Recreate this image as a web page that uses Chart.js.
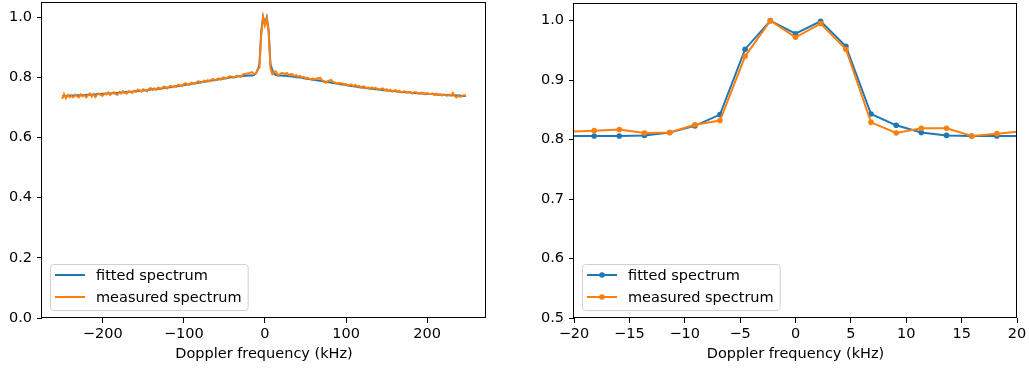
<!DOCTYPE html>
<html>
<head>
<meta charset="utf-8">
<script src="https://cdn.jsdelivr.net/npm/chart.js@4.4.1/dist/chart.umd.min.js"></script>
<style>
  html, body { margin: 0; padding: 0; background: #fff; }
  #wrap { position: relative; width: 1029px; height: 368px; }
  .panel { position: absolute; top: 0; height: 368px; }
  #left { left: 0; width: 495px; }
  #right { left: 520px; width: 509px; }
</style>
</head>
<body>
<div id="wrap">
  <div class="panel" id="left"><canvas id="fullChart"></canvas></div>
  <div class="panel" id="right"><canvas id="zoomChart"></canvas></div>
</div>
<script>
// Doppler frequency grid (kHz)
const freqs = [
  -250, -247.73, -245.45, -243.18, -240.91, -238.64, -236.36, -234.09, -231.82, -229.55, -227.27,
  -225, -222.73, -220.45, -218.18, -215.91, -213.64, -211.36, -209.09, -206.82, -204.55, -202.27,
  -200, -197.73, -195.45, -193.18, -190.91, -188.64, -186.36, -184.09, -181.82, -179.55, -177.27,
  -175, -172.73, -170.45, -168.18, -165.91, -163.64, -161.36, -159.09, -156.82, -154.55, -152.27,
  -150, -147.73, -145.45, -143.18, -140.91, -138.64, -136.36, -134.09, -131.82, -129.55, -127.27,
  -125, -122.73, -120.45, -118.18, -115.91, -113.64, -111.36, -109.09, -106.82, -104.55, -102.27,
  -100, -97.73, -95.45, -93.18, -90.91, -88.64, -86.36, -84.09, -81.82, -79.55, -77.27,
  -75, -72.73, -70.45, -68.18, -65.91, -63.64, -61.36, -59.09, -56.82, -54.55, -52.27,
  -50, -47.73, -45.45, -43.18, -40.91, -38.64, -36.36, -34.09, -31.82, -29.55, -27.27,
  -25, -22.73, -20.45, -18.18, -15.91, -13.64, -11.36, -9.09, -6.82, -4.55, -2.27,
  0, 2.27, 4.55, 6.82, 9.09, 11.36, 13.64, 15.91, 18.18, 20.45, 22.73,
  25, 27.27, 29.55, 31.82, 34.09, 36.36, 38.64, 40.91, 43.18, 45.45, 47.73,
  50, 52.27, 54.55, 56.82, 59.09, 61.36, 63.64, 65.91, 68.18, 70.45, 72.73,
  75, 77.27, 79.55, 81.82, 84.09, 86.36, 88.64, 90.91, 93.18, 95.45, 97.73,
  100, 102.27, 104.55, 106.82, 109.09, 111.36, 113.64, 115.91, 118.18, 120.45, 122.73,
  125, 127.27, 129.55, 131.82, 134.09, 136.36, 138.64, 140.91, 143.18, 145.45, 147.73,
  150, 152.27, 154.55, 156.82, 159.09, 161.36, 163.64, 165.91, 168.18, 170.45, 172.73,
  175, 177.27, 179.55, 181.82, 184.09, 186.36, 188.64, 190.91, 193.18, 195.45, 197.73,
  200, 202.27, 204.55, 206.82, 209.09, 211.36, 213.64, 215.91, 218.18, 220.45, 222.73,
  225, 227.27, 229.55, 231.82, 234.09, 236.36, 238.64, 240.91, 243.18, 245.45, 247.73
];

const fitted = [
  0.738, 0.738, 0.738, 0.738, 0.739, 0.739, 0.739, 0.740, 0.740, 0.740, 0.740,
  0.741, 0.741, 0.741, 0.742, 0.742, 0.742, 0.743, 0.743, 0.744, 0.744, 0.744,
  0.745, 0.745, 0.746, 0.746, 0.746, 0.747, 0.747, 0.748, 0.748, 0.749, 0.749,
  0.750, 0.750, 0.751, 0.751, 0.752, 0.752, 0.753, 0.754, 0.754, 0.755, 0.755,
  0.756, 0.757, 0.757, 0.758, 0.759, 0.760, 0.760, 0.761, 0.762, 0.762, 0.763,
  0.764, 0.765, 0.766, 0.767, 0.767, 0.768, 0.769, 0.770, 0.771, 0.772, 0.773,
  0.774, 0.775, 0.776, 0.777, 0.778, 0.779, 0.780, 0.781, 0.782, 0.783, 0.784,
  0.785, 0.786, 0.787, 0.788, 0.789, 0.790, 0.791, 0.792, 0.793, 0.794, 0.795,
  0.796, 0.797, 0.798, 0.799, 0.800, 0.800, 0.801, 0.802, 0.803, 0.803, 0.804,
  0.805, 0.805, 0.806, 0.806, 0.806, 0.807, 0.812, 0.823, 0.842, 0.952, 1.000,
  0.978, 0.999, 0.957, 0.843, 0.824, 0.812, 0.807, 0.806, 0.806, 0.806, 0.805,
  0.805, 0.804, 0.803, 0.803, 0.802, 0.801, 0.800, 0.800, 0.799, 0.798, 0.797,
  0.796, 0.795, 0.794, 0.793, 0.792, 0.791, 0.790, 0.789, 0.788, 0.787, 0.786,
  0.785, 0.784, 0.783, 0.782, 0.781, 0.780, 0.779, 0.778, 0.777, 0.776, 0.775,
  0.774, 0.773, 0.772, 0.771, 0.770, 0.769, 0.768, 0.767, 0.767, 0.766, 0.765,
  0.764, 0.763, 0.762, 0.762, 0.761, 0.760, 0.760, 0.759, 0.758, 0.757, 0.757,
  0.756, 0.755, 0.755, 0.754, 0.754, 0.753, 0.752, 0.752, 0.751, 0.751, 0.750,
  0.750, 0.749, 0.749, 0.748, 0.748, 0.747, 0.747, 0.746, 0.746, 0.746, 0.745,
  0.745, 0.744, 0.744, 0.744, 0.743, 0.743, 0.742, 0.742, 0.742, 0.741, 0.741,
  0.741, 0.740, 0.740, 0.740, 0.740, 0.739, 0.739, 0.739, 0.738, 0.738, 0.738
];

const measured = [
  0.728, 0.744, 0.730, 0.741, 0.734, 0.738, 0.733, 0.742, 0.737, 0.733, 0.743,
  0.737, 0.741, 0.733, 0.740, 0.746, 0.736, 0.744, 0.734, 0.742, 0.746, 0.740,
  0.739, 0.746, 0.743, 0.750, 0.741, 0.747, 0.750, 0.744, 0.742, 0.751, 0.746,
  0.754, 0.748, 0.746, 0.754, 0.752, 0.748, 0.755, 0.751, 0.759, 0.756, 0.752,
  0.760, 0.757, 0.753, 0.761, 0.764, 0.758, 0.763, 0.758, 0.766, 0.763, 0.761,
  0.769, 0.767, 0.763, 0.769, 0.771, 0.767, 0.772, 0.768, 0.775, 0.773, 0.770,
  0.777, 0.780, 0.776, 0.774, 0.782, 0.780, 0.778, 0.784, 0.787, 0.782, 0.783,
  0.789, 0.787, 0.790, 0.786, 0.792, 0.794, 0.790, 0.794, 0.796, 0.792, 0.799,
  0.798, 0.796, 0.800, 0.803, 0.802, 0.798, 0.803, 0.805, 0.803, 0.801, 0.809,
  0.811, 0.812, 0.813, 0.815, 0.817, 0.811, 0.812, 0.825, 0.832, 0.940, 1.000,
  0.972, 0.995, 0.952, 0.829, 0.811, 0.819, 0.819, 0.806, 0.810, 0.814, 0.813,
  0.811, 0.814, 0.807, 0.811, 0.810, 0.804, 0.807, 0.802, 0.805, 0.799, 0.802,
  0.796, 0.799, 0.795, 0.792, 0.796, 0.792, 0.796, 0.797, 0.798, 0.790, 0.786,
  0.782, 0.787, 0.789, 0.791, 0.784, 0.783, 0.779, 0.781, 0.780, 0.779, 0.775,
  0.778, 0.772, 0.775, 0.776, 0.770, 0.775, 0.769, 0.771, 0.765, 0.769, 0.769,
  0.763, 0.766, 0.762, 0.766, 0.762, 0.765, 0.760, 0.758, 0.761, 0.763, 0.757,
  0.760, 0.754, 0.758, 0.752, 0.756, 0.757, 0.751, 0.755, 0.749, 0.753, 0.753,
  0.749, 0.751, 0.751, 0.746, 0.750, 0.750, 0.747, 0.746, 0.749, 0.746, 0.743,
  0.748, 0.744, 0.744, 0.746, 0.741, 0.746, 0.741, 0.744, 0.739, 0.743, 0.740,
  0.739, 0.742, 0.739, 0.748, 0.737, 0.733, 0.739, 0.735, 0.738, 0.740, 0.740
];

const seriesLabels = ["fitted spectrum", "measured spectrum"];
const fullXTicks = [-200, -100, 0, 100, 200];
const fullYTicks = [0, 0.2, 0.4, 0.6, 0.8, 1.0];
const zoomXTicks = [-20, -15, -10, -5, 0, 5, 10, 15, 20];
const zoomYTicks = [0.5, 0.6, 0.7, 0.8, 0.9, 1.0];

const BLUE = "#1f77b4";
const ORANGE = "#ff7f0e";
const FONT = { family: "'DejaVu Sans', sans-serif", size: 14.5 };

Chart.defaults.font.family = FONT.family;
Chart.defaults.font.size = FONT.size;
Chart.defaults.color = "#000";

const toPoints = ys => freqs.map((f, i) => ({ x: f, y: ys[i] }));
const minus = v => String(v).replace("-", "\u2212");

// axes frame + matplotlib style legend box in lower left
const frameLegend = {
  id: "frameLegend",
  afterDatasetsDraw(chart) {
    const { ctx, chartArea: a } = chart;
    ctx.save();
    ctx.strokeStyle = "#000";
    ctx.lineWidth = 1;
    const l = Math.round(a.left) - 0.5, t = Math.round(a.top) + 0.5;
    const r = Math.round(a.right) - 0.5, b = Math.round(a.bottom) - 0.5;
    ctx.strokeRect(l, t, r - l, b - t);

    const rows = chart.data.datasets;
    ctx.font = "14.5px 'DejaVu Sans'";
    const textW = Math.max(...rows.map(d => ctx.measureText(d.label).width));
    const bh = 46, bw = 46 + textW + 6;
    const bx = Math.round(a.left) + 8, by = Math.round(a.bottom) - 8 - bh;
    ctx.beginPath();
    ctx.roundRect(bx + 0.5, by + 0.5, bw, bh, 3);
    ctx.fillStyle = "rgba(255,255,255,0.8)";
    ctx.fill();
    ctx.strokeStyle = "#d0d0d0";
    ctx.stroke();
    rows.forEach((d, i) => {
      const y = by + 11 + i * 22;
      ctx.strokeStyle = d.borderColor;
      ctx.lineWidth = 2;
      ctx.beginPath();
      ctx.moveTo(bx + 5, y);
      ctx.lineTo(bx + 35, y);
      ctx.stroke();
      if (d.pointRadius > 0) {
        ctx.fillStyle = d.borderColor;
        ctx.beginPath();
        ctx.arc(bx + 20, y, d.pointRadius, 0, Math.PI * 2);
        ctx.fill();
      }
      ctx.fillStyle = "#000";
      ctx.textBaseline = "middle";
      ctx.textAlign = "left";
      ctx.fillText(d.label, bx + 46, y + 1);
    });
    ctx.restore();
  }
};

function axis(min, max, ticks, fmt, fit, pad, extra) {
  return Object.assign({
    type: "linear",
    min, max,
    afterBuildTicks: s => { s.ticks = ticks.map(v => ({ value: v })); },
    afterFit: s => {
      fit(s);
      s.paddingTop = 0; s.paddingBottom = 0;
      s.paddingLeft = 0; s.paddingRight = 0;
    },
    grid: { display: true, drawOnChartArea: false, drawTicks: true, tickLength: 5, color: "#000", lineWidth: 1 },
    border: { display: false },
    ticks: { color: "#000", font: FONT, padding: pad, maxRotation: 0, autoSkip: false, callback: fmt }
  }, extra);
}

function makeChart(id, cfg) {
  const ds = (label, ys, color, order) => ({
    label, data: toPoints(ys), borderColor: color, backgroundColor: color,
    borderWidth: 2, pointRadius: cfg.pointRadius, pointBorderWidth: 0, pointHoverRadius: 0,
    tension: 0, fill: false, order
  });
  return new Chart(document.getElementById(id), {
    type: "line",
    data: {
      datasets: [
        ds(seriesLabels[0], fitted, BLUE, 1),
        ds(seriesLabels[1], measured, ORANGE, 0)
      ]
    },
    options: {
      responsive: true,
      maintainAspectRatio: false,
      animation: false,
      events: [],
      layout: { padding: { top: 2, right: cfg.padRight, left: 0, bottom: 0 } },
      plugins: { legend: { display: false }, tooltip: { enabled: false } },
      scales: {
        x: axis(cfg.xMin, cfg.xMax, cfg.xTicks, v => minus(v), s => { s.height = 50; }, 3, {
          title: { display: true, text: "Doppler frequency (kHz)", color: "#000", font: FONT, padding: { top: 0, bottom: 5 } }
        }),
        y: axis(cfg.yMin, cfg.yMax, cfg.yTicks, v => v.toFixed(1), s => { s.width = cfg.yWidth; }, 5)
      }
    },
    plugins: [frameLegend]
  });
}

makeChart("fullChart", {
  xMin: -274.9, xMax: 272.6, xTicks: fullXTicks,
  yMin: 0, yMax: 1.05, yTicks: fullYTicks,
  yWidth: 42, padRight: 9, pointRadius: 0
});

makeChart("zoomChart", {
  xMin: -20, xMax: 20, xTicks: zoomXTicks,
  yMin: 0.5, yMax: 1.03, yTicks: zoomYTicks,
  yWidth: 54, padRight: 12, pointRadius: 2.8
});
</script>
</body>
</html>
